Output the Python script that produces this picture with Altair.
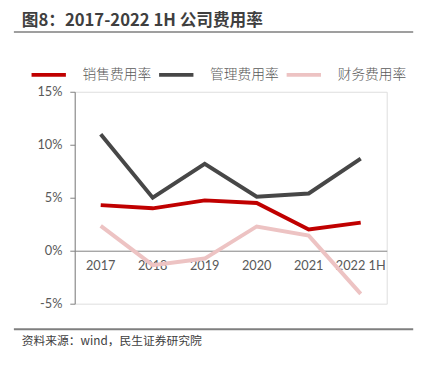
import altair as alt
import pandas as pd

years = ["2017", "2018", "2019", "2020", "2021", "2022 1H"]
series_names = ["销售费用率", "管理费用率", "财务费用率"]
sales = [0.043, 0.040, 0.0475, 0.045, 0.020, 0.0265]
admin = [0.110, 0.050, 0.082, 0.051, 0.054, 0.087]
finance = [0.0235, -0.0136, -0.0074, 0.0229, 0.0142, -0.0407]
colors = ["#C00000", "#474747", "#EDC3C3"]
title_text = "图8：2017-2022 1H 公司费用率"
source_text = "资料来源：wind，民生证券研究院"

rows = []
for name, vals in zip(series_names, [sales, admin, finance]):
    for y, v in zip(years, vals):
        rows.append({"year": y, "series": name, "value": v})
df = pd.DataFrame(rows)

CJK = "Noto Sans CJK SC"
LAT = "Lato"

lines = alt.Chart(df).mark_line(strokeWidth=4, strokeJoin="miter").encode(
    x=alt.X("year:N", sort=years, scale=alt.Scale(type="band", paddingInner=0, paddingOuter=0),
            axis=alt.Axis(title=None, labelAngle=0, ticks=False, domainColor="#808080", domainWidth=1,
                          offset=-54, labelPadding=9, labelFontSize=13, labelColor="#595959",
                          labelFont=LAT, grid=False)),
    y=alt.Y("value:Q", scale=alt.Scale(domain=[-0.05, 0.15], nice=False),
            axis=alt.Axis(title=None, values=[-0.05, 0, 0.05, 0.10, 0.15],
                          labelExpr="(datum.value < 0 ? '-' : '') + format(abs(datum.value), '.0%')",
                          grid=False, domainColor="#808080", tickColor="#808080", tickSize=5,
                          labelFontSize=13, labelColor="#595959", labelFont=LAT, labelPadding=8)),
    color=alt.Color("series:N", scale=alt.Scale(domain=series_names, range=colors),
                    legend=alt.Legend(title=None, orient="none", legendX=-46, legendY=-37,
                                      direction="horizontal", symbolType="stroke", symbolSize=1225,
                                      symbolStrokeWidth=4, labelFontSize=14, labelFont=CJK,
                                      labelColor="#595959", labelOffset=15, columnPadding=0,
                                      labelFontWeight=300)),
    detail="series:N",
)

title_df = pd.DataFrame({"t": [title_text]})
title = alt.Chart(title_df).mark_text(align="left", baseline="alphabetic", font=CJK, fontSize=17,
                                      fontWeight="bold", color="#3F3F3F").encode(
    text="t:N", x=alt.value(-54), y=alt.value(-67))

rule_df = pd.DataFrame({"k": [1]})
top_rule = alt.Chart(rule_df).mark_rule(color="#7F7F7F", strokeWidth=1.5).encode(
    x=alt.value(-62), x2=alt.value(345), y=alt.value(-61))
bottom_rule = alt.Chart(rule_df).mark_rule(color="#7F7F7F", strokeWidth=2).encode(
    x=alt.value(-62), x2=alt.value(345), y=alt.value(242))

src_df = pd.DataFrame({"t": [source_text]})
source = alt.Chart(src_df).mark_text(align="left", baseline="middle", font=CJK, fontSize=12,
                                     color="#404040").encode(
    text="t:N", x=alt.value(-54), y=alt.value(254))

chart = alt.layer(lines, title, top_rule, bottom_rule, source).properties(
    width=318, height=216,
    autosize=alt.AutoSizeParams(type="none"),
    padding={"left": 68, "top": 82, "right": 38, "bottom": 54},
).configure_view(stroke=None).configure(background="white")

chart.save("out.html", embed_options={"renderer": "svg", "actions": False})
